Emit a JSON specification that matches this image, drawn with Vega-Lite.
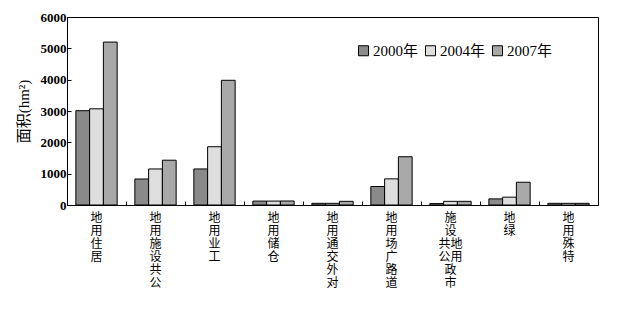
{
  "$schema": "https://vega.github.io/schema/vega-lite/v6.json",
  "autosize": "none",
  "width": 531,
  "height": 188,
  "padding": {"left": 67, "top": 17, "right": 19, "bottom": 105},
  "background": "white",
  "config": {
    "view": {"stroke": "black", "strokeWidth": 1},
    "axis": {"domainColor": "black", "tickColor": "black", "grid": false, "labelColor": "black", "titleColor": "black"}
  },
  "data": {
    "values": [
      {"use": "居住用地", "year": "2000年", "area": 3010},
      {"use": "居住用地", "year": "2004年", "area": 3070},
      {"use": "居住用地", "year": "2007年", "area": 5200},
      {"use": "公共设施用地", "year": "2000年", "area": 830},
      {"use": "公共设施用地", "year": "2004年", "area": 1150},
      {"use": "公共设施用地", "year": "2007年", "area": 1430},
      {"use": "工业用地", "year": "2000年", "area": 1150},
      {"use": "工业用地", "year": "2004年", "area": 1860},
      {"use": "工业用地", "year": "2007年", "area": 3980},
      {"use": "仓储用地", "year": "2000年", "area": 125},
      {"use": "仓储用地", "year": "2004年", "area": 125},
      {"use": "仓储用地", "year": "2007年", "area": 128},
      {"use": "对外交通用地", "year": "2000年", "area": 53},
      {"use": "对外交通用地", "year": "2004年", "area": 53},
      {"use": "对外交通用地", "year": "2007年", "area": 117},
      {"use": "道路广场用地", "year": "2000年", "area": 590},
      {"use": "道路广场用地", "year": "2004年", "area": 834},
      {"use": "道路广场用地", "year": "2007年", "area": 1540},
      {"use": "市政公共设施用地", "year": "2000年", "area": 45},
      {"use": "市政公共设施用地", "year": "2004年", "area": 117},
      {"use": "市政公共设施用地", "year": "2007年", "area": 117},
      {"use": "绿地", "year": "2000年", "area": 195},
      {"use": "绿地", "year": "2004年", "area": 250},
      {"use": "绿地", "year": "2007年", "area": 727},
      {"use": "特殊用地", "year": "2000年", "area": 53},
      {"use": "特殊用地", "year": "2004年", "area": 53},
      {"use": "特殊用地", "year": "2007年", "area": 53}
    ]
  },
  "layer": [
    {
      "mark": {"type": "bar", "stroke": "black", "strokeWidth": 1},
      "encoding": {
        "x": {
          "field": "use", "type": "nominal", "sort": null,
          "scale": {"paddingInner": 0.3, "paddingOuter": 0.15},
          "axis": {
            "orient": "bottom", "title": null, "ticks": false, "domain": true,
            "labelAngle": 0, "labelAlign": "center", "labelBaseline": "top",
            "labelPadding": 7, "labelFont": "Noto Sans CJK SC", "labelFontSize": 12,
            "labelLineHeight": 13, "labelOverlap": false, "labelLimit": 0,
            "labelExpr": "datum.label == '市政公共设施用地' ? ['施　','设　','共地','公用','政　','市　'] : reverse(split(datum.label, ''))"
          }
        },
        "xOffset": {"field": "year", "type": "nominal", "scale": {"paddingInner": 0, "paddingOuter": 0}},
        "y": {
          "field": "area", "type": "quantitative",
          "scale": {"domain": [0, 6000], "nice": false},
          "axis": {
            "title": "面积(hm²)", "values": [0, 1000, 2000, 3000, 4000, 5000, 6000], "format": "d",
            "tickSize": -4, "labelPadding": 5,
            "labelFont": "Liberation Serif", "labelFontSize": 13, "labelFontWeight": "bold",
            "titleFont": "Liberation Serif, Noto Sans CJK SC", "titleFontSize": 15, "titleFontWeight": "normal",
            "titlePadding": 9
          }
        },
        "fill": {
          "field": "year", "type": "nominal",
          "scale": {"range": ["#8a8a8a", "#dedede", "#a8a8a8"]},
          "legend": {
            "title": null, "orient": "none", "direction": "horizontal",
            "legendX": 289, "legendY": 26, "padding": 0,
            "symbolType": "square", "symbolSize": 100, "symbolStrokeColor": "black", "symbolStrokeWidth": 1,
            "labelFont": "Liberation Serif, Noto Sans CJK SC", "labelFontSize": 15, "labelColor": "black",
            "labelOffset": 2, "columnPadding": 4
          }
        }
      }
    },
    {
      "mark": {"type": "tick", "opacity": 0},
      "encoding": {
        "x": {
          "field": "use", "type": "nominal", "sort": null,
          "axis": {
            "orient": "bottom", "title": null, "labels": false, "domain": false,
            "ticks": true, "bandPosition": 0, "tickOffset": -8.85, "tickSize": -4
          }
        }
      }
    }
  ],
  "resolve": {"axis": {"x": "independent"}}
}
